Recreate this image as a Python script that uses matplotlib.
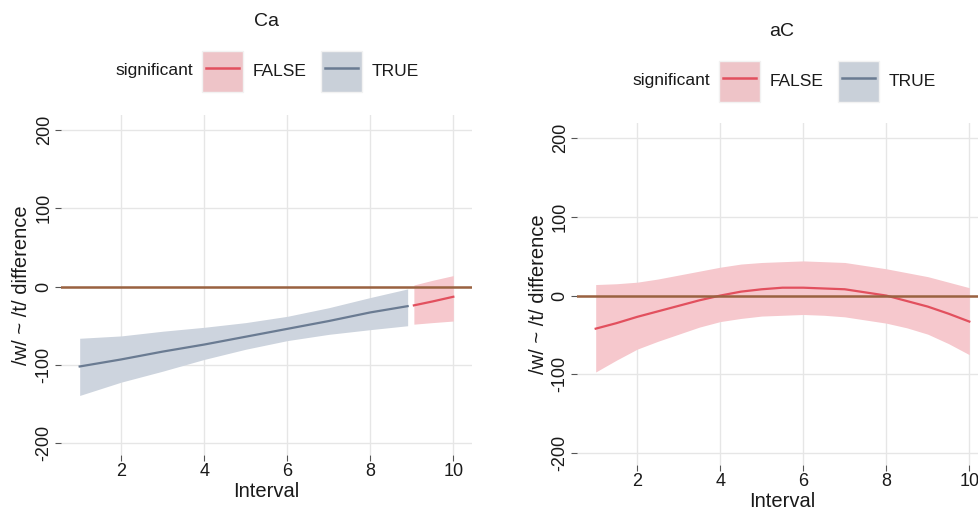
import matplotlib
matplotlib.use("Agg")
import matplotlib.pyplot as plt
from matplotlib.patches import Rectangle
from matplotlib.lines import Line2D

plt.rcParams["font.family"] = ["Liberation Sans", "DejaVu Sans"]
plt.rcParams["axes.unicode_minus"] = False     # ggplot prints a plain hyphen

W, H = 979, 519

# ---- data -----------------------------------------------------------------
# left panel ("Ca"): significant stretch, then non-significant tail
ca_true_x = [1, 2, 3, 4, 5, 6, 7, 8, 8.9]
ca_true_fit = [-102, -93, -83, -74, -64, -54, -44, -33, -25]
ca_true_lo = [-139, -122, -108, -93, -80, -69, -61, -55, -50]
ca_true_hi = [-66, -63, -57, -52, -46, -38, -27, -14, -3]

ca_false_x = [9.05, 9.5, 10]
ca_false_fit = [-24, -19, -13]
ca_false_lo = [-48, -46, -44]
ca_false_hi = [2, 8, 14]

# right panel ("aC"): nothing significant
ac_x = [1, 1.5, 2, 2.5, 3, 3.5, 4, 4.5, 5, 5.5, 6, 6.5, 7, 7.5, 8, 8.5, 9, 9.5, 10]
ac_fit = [-42, -35, -27, -20, -13, -6, 0, 5, 8, 10, 10, 9, 8, 4, 0, -7, -14, -23, -33]
ac_lo = [-97, -82, -68, -58, -49, -40, -33, -29, -26, -25, -24, -25, -27, -31, -35,
         -41, -49, -61, -75]
ac_hi = [14, 15, 17, 21, 26, 31, 36, 40, 42, 43, 44, 43, 42, 38, 34, 29, 24, 17, 10]

x_ticks = [2, 4, 6, 8, 10]
y_ticks = [-200, -100, 0, 100, 200]

RED, RED_FILL, RED_KEY = "#E2505E", "#F6C8CD", "#EEC4C8"
SLATE, SLATE_FILL, SLATE_KEY = "#6A7B92", "#CDD4DE", "#C9D0D9"
ZERO = "#9A6240"
GRID = "#E6E6E6"
TXT = "#1A1A1A"


def px(x, y):
    """pixel (from top-left) -> figure fraction"""
    return x / W, 1 - y / H


def style(ax):
    ax.set_xlim(0.55, 10.45)
    ax.set_ylim(-215, 219)
    ax.set_xticks(x_ticks)
    ax.set_yticks(y_ticks)
    ax.grid(True, color=GRID, linewidth=1.0)
    ax.set_axisbelow(True)
    for s in ax.spines.values():
        s.set_visible(False)
    ax.tick_params(length=4, width=0.8, color="#555555", labelsize=13,
                   labelcolor=TXT, pad=2)
    for lab in ax.get_yticklabels():
        lab.set_rotation(90)
        lab.set_va("center")
    ax.set_xlabel("Interval", fontsize=14.5, color=TXT, labelpad=1)
    ax.set_ylabel("/w/ ~ /t/ difference", fontsize=14.5, color=TXT, labelpad=3)
    ax.axhline(0, color=ZERO, linewidth=1.8, zorder=5)


def legend(x0, yc):
    """ggplot-style top legend; x0 = left of 'significant', yc = centre line"""
    fig.text(*px(x0, yc), "significant", fontsize=12.5, color=TXT, va="center")
    for dx, fill, col, lab in [(87, RED_KEY, RED, "FALSE"),
                               (206, SLATE_KEY, SLATE, "TRUE")]:
        bx, by = px(x0 + dx, yc + 21)
        fig.patches.append(Rectangle((bx, by), 41 / W, 41 / H, facecolor=fill,
                                     edgecolor="#F2F2F2", linewidth=1,
                                     transform=fig.transFigure, figure=fig))
        lx0, ly = px(x0 + dx + 4, yc - 3)
        lx1, _ = px(x0 + dx + 37, yc - 3)
        fig.lines.append(Line2D([lx0, lx1], [ly, ly], color=col, linewidth=1.8,
                                transform=fig.transFigure, figure=fig))
        fig.text(*px(x0 + dx + 51, yc), lab, fontsize=12.5, color=TXT, va="center")


fig = plt.figure(figsize=(W / 100, H / 100), dpi=100)

# ---- left panel -----------------------------------------------------------
ax1 = fig.add_axes([61 / W, 1 - 455 / H, 411 / W, 340 / H])
ax1.fill_between(ca_true_x, ca_true_lo, ca_true_hi, color=SLATE_FILL, linewidth=0)
ax1.plot(ca_true_x, ca_true_fit, color=SLATE, linewidth=1.6)
ax1.fill_between(ca_false_x, ca_false_lo, ca_false_hi, color=RED_FILL, linewidth=0)
ax1.plot(ca_false_x, ca_false_fit, color=RED, linewidth=1.6)
style(ax1)
fig.text(*px(267, 22), "Ca", fontsize=14, color=TXT, ha="center", va="center")
legend(115, 71)

# ---- right panel (runs off the right edge, as in the source) -------------
ax2 = fig.add_axes([577 / W, 1 - 465 / H, 411 / W, 342 / H])
ax2.fill_between(ac_x, ac_lo, ac_hi, color=RED_FILL, linewidth=0)
ax2.plot(ac_x, ac_fit, color=RED, linewidth=1.6)
style(ax2)
fig.text(*px(782, 32), "aC", fontsize=14, color=TXT, ha="center", va="center")
legend(632, 81)

fig.savefig("out.png", dpi=100)
